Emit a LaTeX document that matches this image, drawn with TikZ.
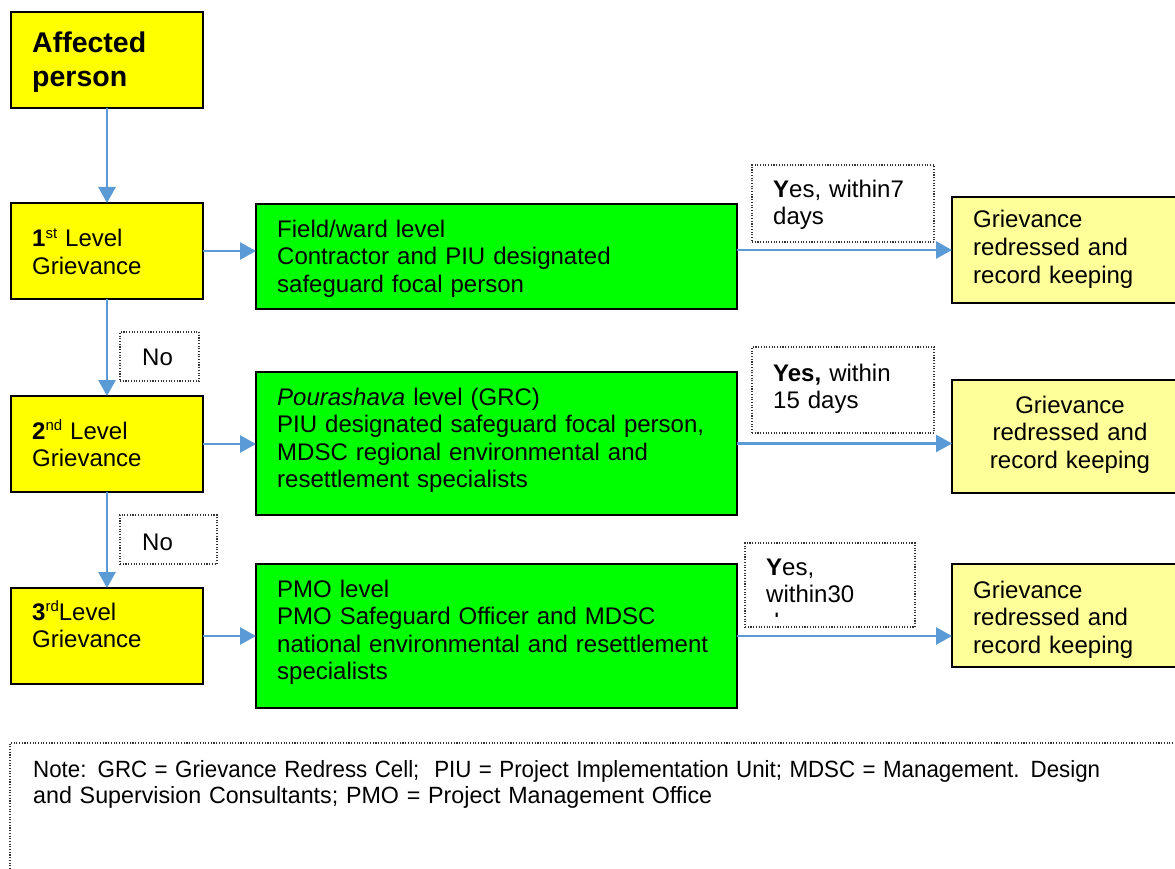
\documentclass[tikz,border=0pt]{standalone}
\usepackage{fontspec}
\setmainfont{Liberation Sans}
\usetikzlibrary{arrows.meta}
\definecolor{ylw}{HTML}{FFFF00}
\definecolor{lylw}{HTML}{FFFF99}
\definecolor{grn}{HTML}{00FF00}
\definecolor{arrowblue}{HTML}{5B9BD5}
\definecolor{dotgray}{HTML}{333333}
\newcommand{\supx}[1]{\raisebox{9pt}{\fontsize{15}{15}\selectfont #1}}
\begin{document}
\begin{tikzpicture}[x=1pt,y=-1pt,
  boxbase/.style={draw=black, line width=1.6pt, inner sep=0pt, outer sep=0pt},
  ybox/.style={boxbase, fill=ylw},
  lybox/.style={boxbase, fill=lylw},
  gbox/.style={boxbase, fill=grn},
  dotbox/.style={draw=dotgray, line width=1.1pt, dash pattern=on 1.1pt off 1.6pt, fill=white, inner sep=0pt, outer sep=0pt},
  txt/.style={anchor=base west, inner sep=0pt, text width=460pt, align=left, font=\fontsize{24}{27.6}\selectfont},
  ctxt/.style={anchor=base, inner sep=0pt, text width=220pt, align=center, font=\fontsize{24}{27.6}\selectfont},
  conn/.style={draw=arrowblue, line width=2.8pt, -{Triangle[length=16pt,width=17pt]}}
]
\useasboundingbox (0,0) rectangle (1175,869);

% note box
\node[dotbox, fill=none, minimum width=1190pt, minimum height=160pt, anchor=north west] (note) at (10,743) {};
\node[anchor=base west, inner sep=0pt, text width=1150pt, align=left, font=\fontsize{23.5}{26.5}\selectfont] (notetext) at (33,777) {\resizebox{1067pt}{\height}{Note: GRC = Grievance Redress Cell;\ \ PIU = Project Implementation Unit; MDSC = Management. Design}\\\resizebox{679pt}{\height}{and Supervision Consultants; PMO = Project Management Office}};

% left column
\node[ybox, minimum width=192pt, minimum height=96pt] (ap) at (107,60) {};
\node[ybox, minimum width=192pt, minimum height=96pt] (l1) at (107,251) {};
\node[ybox, minimum width=192pt, minimum height=96pt] (l2) at (107,444) {};
\node[ybox, minimum width=192pt, minimum height=96pt] (l3) at (107,636) {};

\node[anchor=base west, inner sep=0pt, text width=180pt, align=left, font=\bfseries\fontsize{28.5}{34}\selectfont] (aptext) at (32,53) {Affected\\person};
\node[txt] (l1text) at (32,247) {\textbf{1}\supx{st} Level\\Grievance};
\node[txt] (l2text) at (32,439) {\textbf{2}\supx{nd} Level\\Grievance};
\node[txt] (l3text) at (32,620) {\textbf{3}\supx{rd}Level\\Grievance};

% green column
\node[gbox, minimum width=481pt, minimum height=105pt] (g1) at (496.5,256.5) {};
\node[gbox, minimum width=481pt, minimum height=143pt] (g2) at (496.5,443.5) {};
\node[gbox, minimum width=481pt, minimum height=144pt] (g3) at (496.5,636) {};

\node[txt] (g1text) at (277,237) {Field/ward level\\Contractor and PIU designated\\safeguard focal person};
\node[txt] (g2text) at (277,405) {\textit{Pourashava} level (GRC)\\PIU designated safeguard focal person,\\MDSC regional environmental and\\resettlement specialists};
\node[txt] (g3text) at (277,597) {PMO level\\PMO Safeguard Officer and MDSC\\national environmental and resettlement\\specialists};

% result boxes
\node[lybox, minimum width=226pt, minimum height=106pt] (y1) at (1065,250) {};
\node[lybox, minimum width=226pt, minimum height=113pt] (y2) at (1065,436.5) {};
\node[lybox, minimum width=226pt, minimum height=103pt] (y3) at (1065,615.5) {};

\node[txt] (y1text) at (973,228) {Grievance\\redressed and\\record keeping};
\node[ctxt] (y2text) at (1070,413) {Grievance\\redressed and\\record keeping};
\node[txt] (y3text) at (973,598) {Grievance\\redressed and\\record keeping};

% dotted label boxes
\node[dotbox, minimum width=182pt, minimum height=77pt] (yes1) at (843,203.5) {};
\node[dotbox, minimum width=182pt, minimum height=86pt] (yes2) at (843,390) {};
\node[dotbox, minimum width=170pt, minimum height=84pt] (yes3) at (830,585) {};
\node[dotbox, minimum width=79pt, minimum height=49pt] (no1) at (159.5,356.5) {};
\node[dotbox, minimum width=97pt, minimum height=49pt] (no2) at (168.5,539.5) {};

\node[txt] (yes1text) at (773,197) {\textbf{Y}es, within7\\days};
\node[txt] (yes2text) at (773,381) {\textbf{Yes,} within\\15 days};
\begin{scope}
\clip (746,544) rectangle (914,616.5);
\node[txt] (yes3text) at (766,575) {\textbf{Y}es,\\within30\\days};
\end{scope}
\node[txt] (no1text) at (142,365) {No};
\node[txt] (no2text) at (142,550) {No};

% connectors
\draw[conn] (ap.south) -- (l1.north);
\draw[conn] (l1.south) -- (l2.north);
\draw[conn] (l2.south) -- (l3.north);
\draw[conn] (l1.east) -- (l1.east -| g1.west);
\draw[conn] (l2.east) -- (l2.east -| g2.west);
\draw[conn] (l3.east) -- (l3.east -| g3.west);
\draw[conn] (y1.west -| g1.east) -- (y1.west);
\draw[conn] (g2.east) -- (g2.east -| y2.west);
\draw[conn] (g3.east) -- (g3.east -| y3.west);
\end{tikzpicture}
\end{document}
